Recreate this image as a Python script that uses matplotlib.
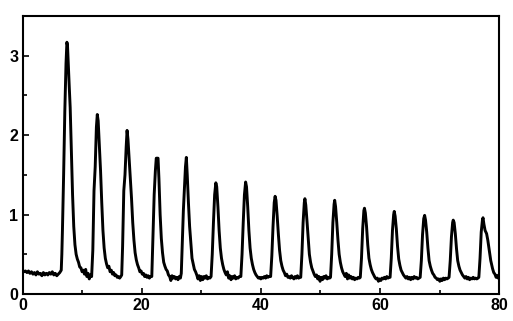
import matplotlib
matplotlib.use("Agg")
import matplotlib.pyplot as plt
from matplotlib.ticker import MultipleLocator

# trace values (time, signal)
time_s = [
    0.0, 0.25, 0.5, 0.75, 1.0, 1.25, 1.5, 1.75, 2.0, 2.25, 2.5, 2.75, 3.0, 3.25, 3.5, 3.75, 4.0, 4.25, 4.5, 4.75, 5.0, 5.25, 5.5, 5.75, 6.0, 6.25,
    6.5, 6.6, 6.7, 6.9, 7.1, 7.3, 7.45, 7.55, 7.7, 7.85, 8.0, 8.2, 8.4, 8.6, 8.8, 9.0, 9.2, 9.4, 9.6, 9.8, 10.0, 10.2, 10.4, 10.6, 10.8, 11.0, 11.2, 11.4,
    11.6, 11.8, 12.0, 12.2, 12.4, 12.55, 12.7, 12.9, 13.1, 13.3, 13.5, 13.7, 13.9, 14.1, 14.3, 14.5, 14.7, 14.9, 15.1, 15.3, 15.5, 15.7, 15.9, 16.1, 16.3, 16.5,
    16.65, 16.8, 17.0, 17.2, 17.4, 17.55, 17.7, 17.9, 18.1, 18.3, 18.5, 18.7, 18.9, 19.1, 19.3, 19.5, 19.7, 19.9, 20.1, 20.3, 20.5, 20.7, 20.9, 21.1, 21.3, 21.5,
    21.7, 21.9, 22.1, 22.3, 22.45, 22.75, 22.9, 23.1, 23.3, 23.5, 23.7, 23.9, 24.1, 24.3, 24.5, 24.7, 24.9, 25.1, 25.3, 25.5, 25.7, 25.9, 26.1, 26.3, 26.5,
    26.65, 26.8, 27.0, 27.2, 27.35, 27.5, 27.65, 27.85, 28.05, 28.25, 28.45, 28.65, 28.85, 29.05, 29.25, 29.45, 29.65, 29.85, 30.05, 30.25, 30.45, 30.65, 30.85, 31.05, 31.25, 31.45,
    31.65, 31.85, 32.05, 32.25, 32.45, 32.6, 32.8, 33.0, 33.2, 33.4, 33.6, 33.8, 34.0, 34.2, 34.4, 34.6, 34.8, 35.0, 35.2, 35.4, 35.6, 35.8, 36.0, 36.2, 36.4,
    36.65, 36.85, 37.05, 37.25, 37.45, 37.6, 37.8, 38.0, 38.2, 38.4, 38.6, 38.8, 39.0, 39.2, 39.4, 39.6, 39.8, 40.0, 40.2, 40.4, 40.6, 40.8, 41.0, 41.2, 41.4,
    41.65, 41.85, 42.05, 42.25, 42.4, 42.55, 42.75, 42.95, 43.15, 43.35, 43.55, 43.75, 43.95, 44.15, 44.35, 44.55, 44.75, 44.95, 45.15, 45.35, 45.55, 45.75, 45.95, 46.15, 46.35, 46.55,
    46.7, 46.9, 47.1, 47.3, 47.4, 47.55, 47.75, 47.95, 48.15, 48.35, 48.55, 48.75, 48.95, 49.15, 49.35, 49.55, 49.75, 49.95, 50.15, 50.35, 50.55, 50.75, 50.95, 51.15, 51.35, 51.55,
    51.7, 51.9, 52.1, 52.3, 52.4, 52.55, 52.75, 52.95, 53.15, 53.35, 53.55, 53.75, 53.95, 54.15, 54.35, 54.55, 54.75, 54.95, 55.15, 55.35, 55.55, 55.75, 55.95, 56.15, 56.35, 56.55,
    56.7, 56.9, 57.1, 57.3, 57.4, 57.55, 57.75, 57.95, 58.15, 58.35, 58.55, 58.75, 58.95, 59.15, 59.35, 59.55, 59.75, 59.95, 60.15, 60.35, 60.55, 60.75, 60.95, 61.15, 61.35, 61.55,
    61.7, 61.9, 62.1, 62.3, 62.4, 62.55, 62.75, 62.95, 63.15, 63.35, 63.55, 63.75, 63.95, 64.15, 64.35, 64.55, 64.75, 64.95, 65.15, 65.35, 65.55, 65.75, 65.95, 66.15, 66.35, 66.55,
    66.75, 66.95, 67.15, 67.35, 67.5, 67.65, 67.85, 68.05, 68.25, 68.45, 68.65, 68.85, 69.05, 69.25, 69.45, 69.65, 69.85, 70.05, 70.25, 70.45, 70.65, 70.85, 71.05, 71.25, 71.45,
    71.6, 71.8, 72.0, 72.2, 72.3, 72.45, 72.65, 72.85, 73.05, 73.25, 73.45, 73.65, 73.85, 74.05, 74.25, 74.45, 74.65, 74.85, 75.05, 75.25, 75.45, 75.65, 75.85, 76.05, 76.25, 76.45,
    76.6, 76.8, 77.0, 77.2, 77.3, 77.45, 77.65, 77.9, 78.1, 78.35, 78.6, 78.9, 79.1, 79.3, 79.5, 79.7, 79.85, 80.0,
]
signal = [
    0.30, 0.28, 0.29, 0.27, 0.29, 0.26, 0.28, 0.25, 0.27, 0.24, 0.28, 0.25, 0.26, 0.23, 0.27, 0.24, 0.26, 0.24, 0.27, 0.25, 0.28, 0.24, 0.26, 0.23, 0.25, 0.27,
    0.30, 0.50, 0.80, 1.50, 2.30, 2.90, 3.17, 3.13, 2.85, 2.60, 2.35, 1.80, 1.25, 0.85, 0.62, 0.50, 0.44, 0.40, 0.34, 0.33, 0.28, 0.30, 0.25, 0.31, 0.22, 0.26, 0.19, 0.24,
    0.22, 0.55, 1.30, 1.60, 2.10, 2.26, 2.18, 1.85, 1.55, 1.15, 0.80, 0.58, 0.45, 0.38, 0.33, 0.35, 0.28, 0.30, 0.25, 0.27, 0.23, 0.24, 0.21, 0.22, 0.20, 0.22,
    0.24, 0.60, 1.30, 1.50, 1.85, 2.06, 1.95, 1.70, 1.45, 1.20, 0.90, 0.68, 0.52, 0.43, 0.37, 0.33, 0.28, 0.29, 0.25, 0.26, 0.22, 0.24, 0.21, 0.23, 0.20, 0.22,
    0.22, 0.75, 1.25, 1.55, 1.71, 1.71, 1.45, 1.00, 0.70, 0.52, 0.40, 0.35, 0.31, 0.29, 0.24, 0.22, 0.17, 0.23, 0.20, 0.22, 0.19, 0.21, 0.18, 0.22, 0.20,
    0.26, 0.60, 1.05, 1.35, 1.60, 1.72, 1.50, 1.15, 0.85, 0.65, 0.45, 0.38, 0.31, 0.28, 0.24, 0.19, 0.23, 0.17, 0.22, 0.18, 0.22, 0.20, 0.23, 0.19, 0.21, 0.20,
    0.22, 0.50, 0.90, 1.25, 1.40, 1.35, 1.10, 0.80, 0.58, 0.45, 0.37, 0.31, 0.27, 0.24, 0.28, 0.20, 0.23, 0.18, 0.22, 0.20, 0.23, 0.19, 0.21, 0.20, 0.22,
    0.22, 0.50, 0.90, 1.25, 1.41, 1.35, 1.10, 0.80, 0.58, 0.45, 0.37, 0.31, 0.27, 0.24, 0.22, 0.20, 0.21, 0.19, 0.21, 0.20, 0.22, 0.20, 0.23, 0.21, 0.22,
    0.22, 0.48, 0.85, 1.15, 1.23, 1.18, 0.98, 0.75, 0.55, 0.42, 0.35, 0.30, 0.27, 0.23, 0.25, 0.21, 0.22, 0.20, 0.23, 0.21, 0.19, 0.22, 0.20, 0.23, 0.20, 0.21,
    0.21, 0.50, 0.90, 1.15, 1.20, 1.12, 0.92, 0.70, 0.50, 0.40, 0.33, 0.29, 0.25, 0.22, 0.24, 0.19, 0.22, 0.16, 0.21, 0.18, 0.22, 0.20, 0.23, 0.19, 0.21, 0.20,
    0.21, 0.50, 0.90, 1.13, 1.18, 1.10, 0.90, 0.68, 0.50, 0.40, 0.33, 0.28, 0.25, 0.22, 0.26, 0.19, 0.24, 0.20, 0.22, 0.19, 0.21, 0.18, 0.20, 0.19, 0.21, 0.20,
    0.21, 0.45, 0.82, 1.05, 1.08, 1.02, 0.85, 0.62, 0.45, 0.37, 0.31, 0.27, 0.24, 0.21, 0.19, 0.20, 0.16, 0.19, 0.17, 0.20, 0.19, 0.21, 0.19, 0.22, 0.20, 0.21,
    0.21, 0.45, 0.80, 1.00, 1.04, 0.98, 0.82, 0.60, 0.44, 0.36, 0.30, 0.27, 0.24, 0.22, 0.20, 0.22, 0.19, 0.21, 0.18, 0.21, 0.19, 0.22, 0.20, 0.21, 0.19, 0.20,
    0.21, 0.42, 0.75, 0.95, 0.99, 0.93, 0.78, 0.58, 0.42, 0.35, 0.30, 0.26, 0.24, 0.21, 0.20, 0.18, 0.19, 0.16, 0.19, 0.17, 0.20, 0.18, 0.20, 0.19, 0.20,
    0.21, 0.42, 0.72, 0.90, 0.93, 0.90, 0.76, 0.57, 0.42, 0.35, 0.30, 0.27, 0.24, 0.22, 0.20, 0.22, 0.19, 0.21, 0.18, 0.20, 0.19, 0.21, 0.19, 0.20, 0.19, 0.20,
    0.21, 0.45, 0.78, 0.93, 0.96, 0.88, 0.80, 0.76, 0.68, 0.55, 0.42, 0.32, 0.27, 0.25, 0.21, 0.23, 0.20, 0.24,
]

x_ticks = [0, 20, 40, 60, 80]
y_ticks = [0, 1, 2, 3]

plt.rcParams['font.family'] = ['Liberation Sans', 'DejaVu Sans']

fig = plt.figure(figsize=(5.13, 3.21), dpi=100)
ax = fig.add_axes([0.0439, 0.0841, 0.929, 0.866])
ax.plot(time_s, signal, color='black', linewidth=2.1, solid_joinstyle='round')

ax.set_xlim(0, 80)
ax.set_ylim(0, 3.5)
ax.set_xticks(x_ticks)
ax.set_yticks(y_ticks)
ax.xaxis.set_minor_locator(MultipleLocator(10))
ax.yaxis.set_minor_locator(MultipleLocator(0.5))
ax.tick_params(which='both', direction='in', width=1.2, top=False, right=False)
ax.tick_params(which='major', length=4, labelsize=11.5, pad=3)
ax.tick_params(which='minor', length=3)
for lab in ax.get_xticklabels() + ax.get_yticklabels():
    lab.set_fontweight('bold')
for sp in ax.spines.values():
    sp.set_linewidth(1.5)

fig.savefig('out.png', dpi=100)
